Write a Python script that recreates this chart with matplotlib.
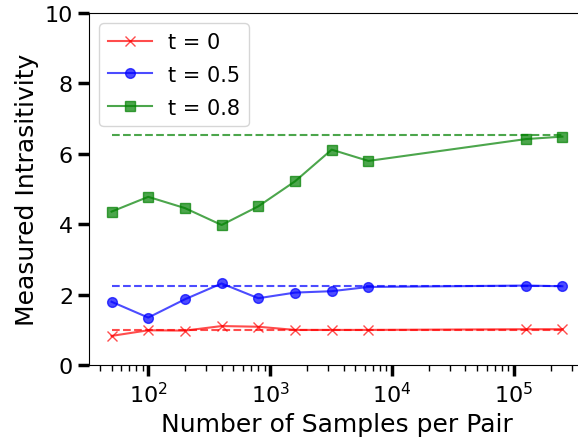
import numpy as np
import matplotlib.pyplot as plt

samples = [50, 100, 200, 400, 800, 1600, 3200, 6400, 125000, 250000]

t0_vals = [0.83, 0.99, 0.98, 1.11, 1.09, 1.00, 1.00, 1.00, 1.02, 1.02]
t05_vals = [1.80, 1.35, 1.87, 2.32, 1.90, 2.06, 2.10, 2.22, 2.26, 2.24]
t08_vals = [4.36, 4.78, 4.46, 3.98, 4.51, 5.22, 6.12, 5.80, 6.42, 6.49]

# expected values (dashed reference lines)
t0_ref = 1.0
t05_ref = 2.26
t08_ref = 6.53

labels = ['t = 0', 't = 0.5', 't = 0.8']

fig = plt.figure(figsize=(5.78, 4.39), dpi=100)
ax = fig.add_axes([0.154, 0.166, 0.858, 0.802])

series = [(t0_vals, t0_ref, 'r', 'x'),
          (t05_vals, t05_ref, 'b', 'o'),
          (t08_vals, t08_ref, 'g', 's')]

for (vals, ref, c, m), lab in zip(series, labels):
    ax.plot(samples, vals, color=c, marker=m, alpha=0.7, markersize=7, label=lab)
    ax.plot([samples[0], samples[-1]], [ref, ref], color=c, linestyle='--', alpha=0.7)

ax.set_xscale('log')
ax.set_ylim(0, 10)
ax.set_yticks([0, 2, 4, 6, 8, 10])
ax.spines['right'].set_visible(False)
ax.tick_params(which='major', length=8, width=2.5, labelsize=16)
ax.tick_params(which='minor', length=4, width=1)
ax.set_xlabel('Number of Samples per Pair', fontsize=18)
ax.set_ylabel('Measured Intrasitivity', fontsize=18)
ax.legend(loc='upper left', fontsize=15, labelspacing=0.62, handlelength=2.1)

fig.savefig('out.png', dpi=100)
